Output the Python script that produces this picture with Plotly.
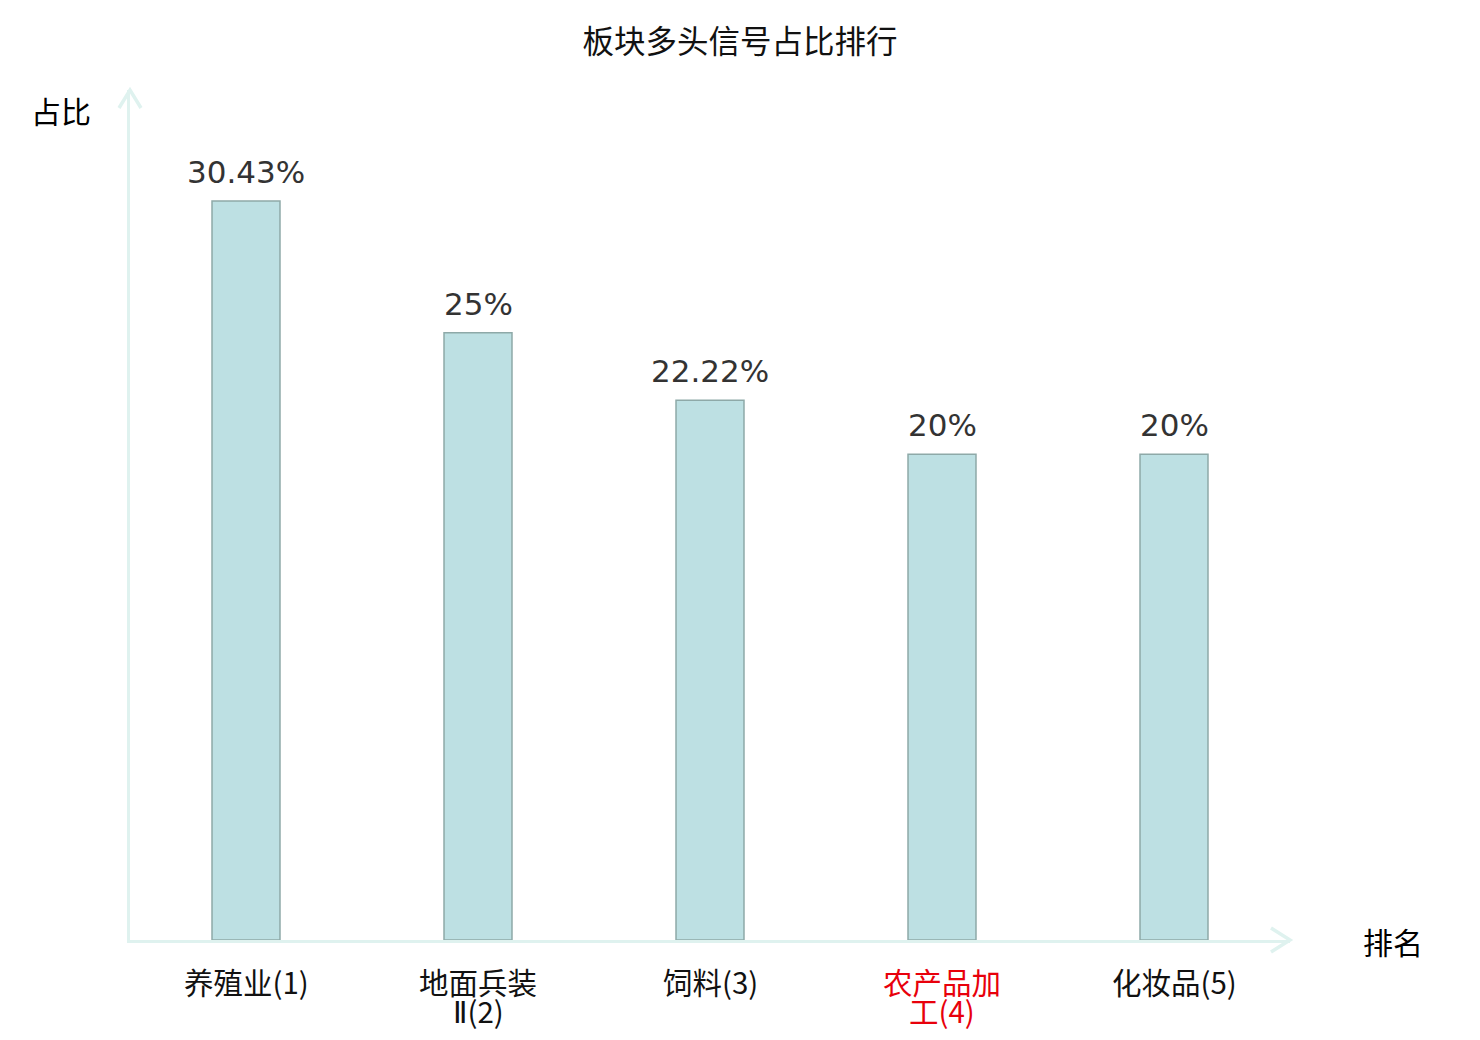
import plotly.graph_objects as go

categories = ["养殖业(1)", "地面兵装<br>Ⅱ(2)", "饲料(3)", "农产品加<br>工(4)", "化妆品(5)"]
values = [30.43, 25, 22.22, 20, 20]
value_labels = ["30.43%", "25%", "22.22%", "20%", "20%"]
highlight_index = 3

AXIS_COLOR = "#dff2ef"
CJK = "Noto Sans CJK SC"

# page has an 8px body margin; figure sized so the page is exactly 1480x1040
W, H = 1464, 1024

fig = go.Figure()
fig.add_trace(go.Bar(
    x=list(range(len(values))),
    y=values,
    width=0.293,
    marker=dict(color="#bde0e3", line=dict(color="#8ea9a8", width=1.5)),
    hoverinfo="skip",
))

annotations = []
for i, (v, lab) in enumerate(zip(values, value_labels)):
    annotations.append(dict(
        x=i, y=v, xref="x", yref="y", text=lab, showarrow=False,
        yanchor="bottom", xanchor="center", yshift=9,
        font=dict(family="DejaVu Sans", size=31, color="#333333"),
    ))

# category labels, one annotation per line for tighter line spacing
for i, cat in enumerate(categories):
    color = "#e8000b" if i == highlight_index else "#111111"
    for j, line in enumerate(cat.split("<br>")):
        line = line.replace("Ⅱ", '<span style="font-family:DejaVu Sans">Ⅱ</span>')
        annotations.append(dict(
            x=i, y=0, xref="x", yref="y", text=line, showarrow=False,
            xanchor="center", yanchor="middle", yshift=-41 - 29 * j,
            font=dict(family=CJK, size=29.5, color=color),
        ))

annotations.append(dict(
    x=0, y=1, xref="paper", yref="paper", text="占比", showarrow=False,
    xanchor="right", yanchor="middle", xshift=-37, yshift=-20,
    font=dict(family=CJK, size=30, color="#000000"),
))
annotations.append(dict(
    x=1, y=0, xref="paper", yref="paper", text="排名", showarrow=False,
    xanchor="left", yanchor="middle", xshift=71, yshift=-1,
    font=dict(family=CJK, size=30, color="#000000"),
))

shapes = [
    dict(type="path", xref="paper", yref="paper", xsizemode="pixel", ysizemode="pixel",
         xanchor=1, yanchor=0, path="M -19 12 L 0 0 L -19 -12",
         line=dict(color=AXIS_COLOR, width=3.5)),
    dict(type="path", xref="paper", yref="paper", xsizemode="pixel", ysizemode="pixel",
         xanchor=0, yanchor=1, path="M -11 -18 L 0 0 L 11 -18",
         line=dict(color=AXIS_COLOR, width=3.5)),
]

fig.update_layout(
    template="none",
    width=W, height=H,
    margin=dict(l=122, r=182, t=82, b=92, autoexpand=False),
    paper_bgcolor="white", plot_bgcolor="white",
    showlegend=False,
    title=dict(text="板块多头信号占比排行", x=(740 - 8) / W, xref="container", xanchor="center",
               y=1 - 34 / H, yref="container", yanchor="middle",
               font=dict(family=CJK, size=31.5, color="#111111")),
    xaxis=dict(
        range=[-0.5, len(values) - 0.5], automargin=False,
        tickmode="array", tickvals=list(range(len(values))),
        showticklabels=False, ticks="",
        showline=True, linecolor=AXIS_COLOR, linewidth=3,
        showgrid=False, zeroline=False,
    ),
    yaxis=dict(
        range=[0, 35], showline=True, linecolor=AXIS_COLOR, linewidth=3, automargin=False,
        showgrid=False, zeroline=False, showticklabels=False, ticks="",
    ),
    annotations=annotations,
    shapes=shapes,
)

fig.write_html("out.html")
